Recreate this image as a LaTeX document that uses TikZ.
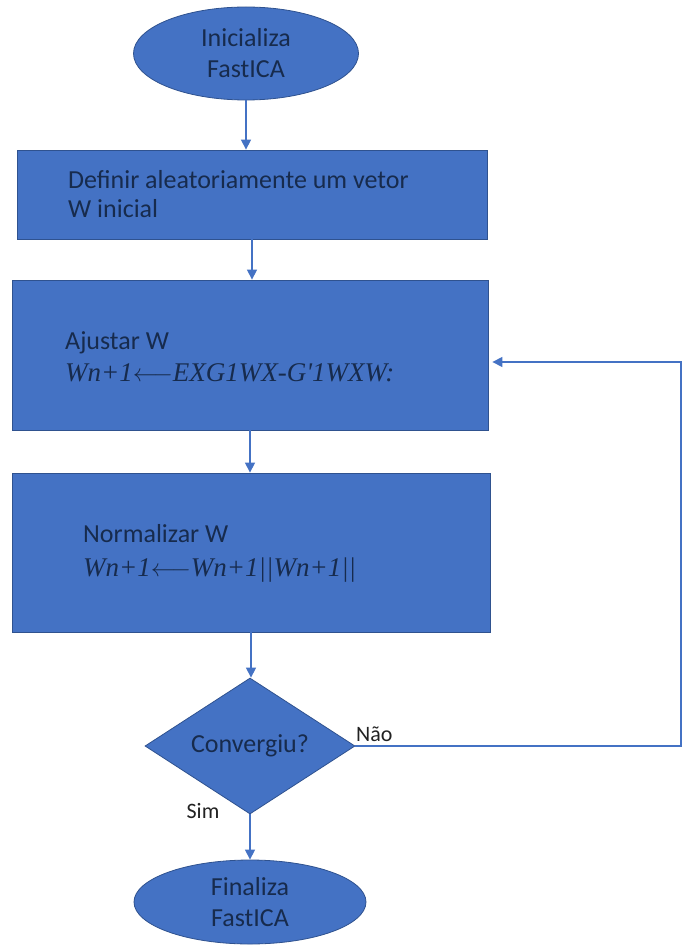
\documentclass[tikz,border=0pt]{standalone}
\usepackage{fontspec}
\setmainfont{Carlito}
\newfontfamily\formfont{Liberation Serif}
\usetikzlibrary{shapes.geometric,arrows.meta}
\definecolor{fillb}{HTML}{4472C4}
\definecolor{edgeb}{HTML}{2F528F}
\definecolor{txtb}{HTML}{172B4D}
\definecolor{lblc}{HTML}{222222}
\begin{document}
\begin{tikzpicture}[x=1pt,y=-1pt,
  shp/.style={fill=fillb,draw=edgeb,line width=0.8pt},
  term/.style={shp,ellipse,inner sep=0pt,align=center,text=txtb,
    font=\fontsize{26}{31}\selectfont},
  procbox/.style={shp,rectangle,inner sep=0pt},
  dec/.style={shp,diamond,inner sep=0pt,aspect=1.54,text=txtb,
    font=\fontsize{26}{31}\selectfont},
  boxtxt/.style={anchor=base west,inner sep=0pt,text=txtb,
    font=\fontsize{26}{30}\selectfont},
  formtxt/.style={anchor=base west,inner sep=0pt,text=txtb,
    font=\fontsize{27}{30}\selectfont\formfont\itshape},
  lbl/.style={inner sep=0pt,text=lblc,font=\fontsize{22}{26}\selectfont},
  conn/.style={draw=fillb,line width=1.3pt},
  arr/.style={conn,-{Triangle[length=10pt,width=10pt]}}]
\useasboundingbox (0,0) rectangle (682,949);

\node[term,minimum width=225pt,minimum height=93pt] (start) at (246,53.5) {Inicializa\\FastICA};

\node[procbox,minimum width=470pt,minimum height=89pt] (b1) at (252,194.5) {};
\node[boxtxt] (t1a) at (68,189) {Definir aleatoriamente um vetor};
\node[boxtxt] (t1b) at (68,218) {W inicial};

\node[procbox,minimum width=476pt,minimum height=150pt] (b2) at (250,355) {};
\node[boxtxt] (t2a) at (65,349) {Ajustar W};
\node[formtxt] (t2b) at (65,381) {Wn+1$\longleftarrow$EXG1WX-G'1WXW:};

\node[procbox,minimum width=478pt,minimum height=159pt] (b3) at (251,552.5) {};
\node[boxtxt] (t3a) at (83,542) {Normalizar W};
\node[formtxt] (t3b) at (83,576) {Wn+1$\longleftarrow$Wn+1||Wn+1||};

\node[dec,minimum width=210pt,minimum height=136pt] (d) at (250,746) {Convergiu?};

\node[term,minimum width=232pt,minimum height=84pt] (end) at (250,902) {Finaliza\\FastICA};

\node[lbl,anchor=south west] (nao) at (356,742) {Não};
\node[lbl] (sim) at (203,811) {Sim};

\coordinate (rc) at (681,746);
\coordinate (rt) at (681,362);

\draw[arr] (start.south) -- (start.south |- b1.north);
\draw[arr] (b1.south) -- (b1.south |- b2.north);
\draw[arr] (b2.south) -- (b2.south |- b3.north);
\draw[arr] (b3.south) -- (b3.south |- d.north);
\draw[arr] (d.south) -- (d.south |- end.north);
\draw[arr,shorten >=4pt] (d.east) -- (rc) -- (rt) -- (b2.east |- rt);
\end{tikzpicture}
\end{document}
